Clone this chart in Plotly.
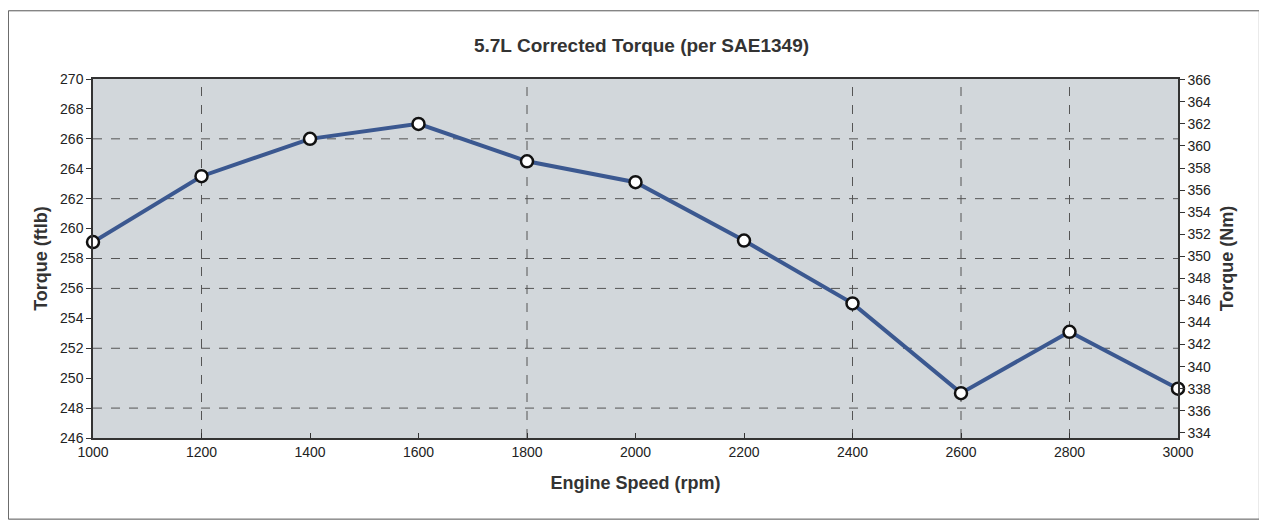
import plotly.graph_objects as go

rpm = [1000, 1200, 1400, 1600, 1800, 2000, 2200, 2400, 2600, 2800, 3000]
torque_ftlb = [259.1, 263.5, 266.0, 267.0, 264.5, 263.1, 259.2, 255.0, 249.0, 253.1, 249.3]
ftlb_to_nm = 1.35582
torque_nm = [v * ftlb_to_nm for v in torque_ftlb]

x_ticks = [1000, 1200, 1400, 1600, 1800, 2000, 2200, 2400, 2600, 2800, 3000]
y_ticks = list(range(246, 271, 2))
y2_ticks = list(range(334, 367, 2))
h_grid = [266, 262, 258, 256, 252, 248]
v_grid = [1200, 1800, 2400, 2600, 2800]

y_range = [246, 270]
y2_range = [y_range[0] * ftlb_to_nm, y_range[1] * ftlb_to_nm]

FONT = "Liberation Sans, Arial, sans-serif"

fig = go.Figure()
fig.add_trace(go.Scatter(
    x=rpm, y=torque_nm, yaxis="y2", mode="lines",
    line=dict(width=0, color="rgba(0,0,0,0)"), hoverinfo="skip", showlegend=False))
fig.add_trace(go.Scatter(
    x=rpm, y=torque_ftlb, mode="lines+markers",
    line=dict(color="#3b5890", width=4),
    marker=dict(size=12, color="white", line=dict(color="#111111", width=2.5)),
    showlegend=False, cliponaxis=False))

shapes = []
for g in h_grid:
    shapes.append(dict(type="line", xref="x", yref="y", x0=1000, x1=3000, y0=g, y1=g,
                       line=dict(color="#555555", width=1, dash="dash"), layer="below"))
for g in v_grid:
    shapes.append(dict(type="line", xref="x", yref="y", x0=g, x1=g, y0=y_range[0], y1=y_range[1],
                       line=dict(color="#555555", width=1, dash="dash"), layer="below"))
# page frame
shapes.append(dict(type="rect", xref="paper", yref="paper", x0=-0.078, x1=1.075, y0=-0.226, y1=1.19,
                   line=dict(color="#555555", width=1), fillcolor="rgba(0,0,0,0)"))

fig.update_layout(
    width=1267, height=523,
    margin=dict(l=85, r=97, t=71, b=93),
    paper_bgcolor="white",
    plot_bgcolor="#d2d7db",
    font=dict(family=FONT, color="#222222", size=14),
    title=dict(text="<b>5.7L Corrected Torque (per SAE1349)</b>", x=0.5, xanchor="center",
               y=0.929, yanchor="middle", font=dict(size=19, family=FONT, color="#333333")),
    xaxis=dict(range=[1000, 3000], tickvals=x_ticks, showgrid=False, zeroline=False,
               showline=True, linecolor="#333333", linewidth=1.5, mirror=True,
               ticks="inside", ticklen=5, tickcolor="#333333",
               tickfont=dict(size=14, color="#222222"),
               title=dict(text="<b>Engine Speed (rpm)</b>", font=dict(size=18, color="#333333"), standoff=18)),
    yaxis=dict(range=y_range, tickvals=y_ticks, showgrid=False, zeroline=False,
               showline=True, linecolor="#333333", linewidth=1.5, mirror=True,
               ticks="outside", ticklen=5, tickcolor="#333333",
               tickfont=dict(size=14, color="#222222"),
               title=dict(text="<b>Torque (ftlb)</b>", font=dict(size=18, color="#333333"), standoff=8)),
    yaxis2=dict(range=y2_range, tickvals=y2_ticks, overlaying="y", side="right",
                showgrid=False, zeroline=False, showline=True, linecolor="#333333", linewidth=1.5,
                ticks="outside", ticklen=5, tickcolor="#333333",
                tickfont=dict(size=14, color="#222222"),
                title=dict(text="<b>Torque (Nm)</b>", font=dict(size=18, color="#333333"), standoff=10)),
    shapes=shapes,
)

fig.write_html("out.html")
